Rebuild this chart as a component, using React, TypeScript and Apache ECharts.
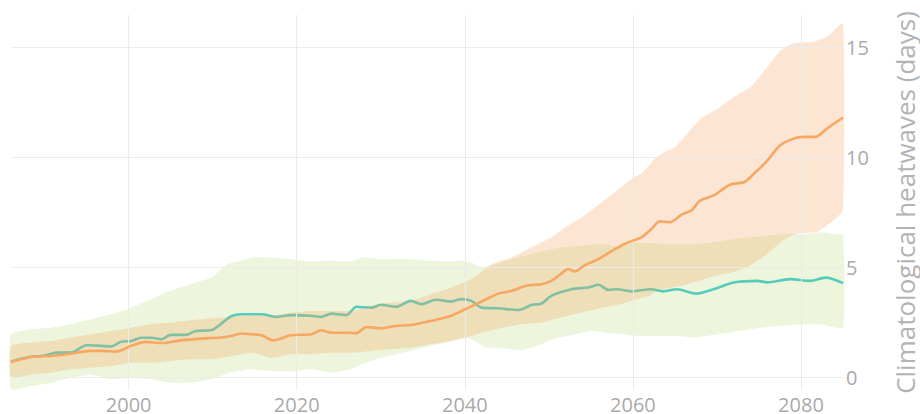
import React, { useEffect, useRef } from "react";
import * as echarts from "echarts";

const xTickLabels = [2000, 2020, 2040, 2060, 2080];
const yTickLabels = [0, 5, 10, 15];
const axisTitle = "Climatological heatwaves (days)";

const orangeMeanYears = [1986, 1988.4, 1990.8, 1993.1, 1995.5, 1996.7, 1998.5, 2000.3, 2002, 2004, 2006.2, 2008.6, 2011, 2012.2, 2013.4, 2014.6, 2015.8, 2017.2, 2019.3, 2021.7, 2022.9, 2024.1, 2025.9, 2027.1, 2028.3, 2030, 2031.8, 2033.6, 2036, 2038.4, 2039.6, 2040.8, 2042, 2044, 2045.6, 2047.3, 2049.1, 2050.3, 2051.5, 2052.3, 2053.1, 2054.3, 2055.9, 2057.5, 2059.4, 2061, 2062.2, 2063.2, 2064.4, 2065.8, 2067, 2068, 2069.6, 2071.6, 2073.2, 2074.4, 2076, 2077.5, 2079.1, 2080.3, 2081.7, 2083.1, 2085];
const orangeMean = [0.68, 0.91, 0.96, 1.06, 1.19, 1.19, 1.16, 1.42, 1.6, 1.55, 1.67, 1.75, 1.8, 1.87, 1.98, 1.95, 1.9, 1.67, 1.9, 1.95, 2.13, 2.02, 2.02, 2.0, 2.28, 2.22, 2.33, 2.37, 2.56, 2.79, 3.01, 3.22, 3.44, 3.8, 3.93, 4.16, 4.23, 4.38, 4.72, 4.92, 4.81, 5.1, 5.37, 5.75, 6.13, 6.36, 6.74, 7.09, 7.05, 7.4, 7.6, 8.04, 8.27, 8.77, 8.87, 9.26, 9.86, 10.55, 10.86, 10.94, 10.94, 11.32, 11.82];

const tealMeanYears = [1986, 1988, 1990, 1991.4, 1993.1, 1995, 1996.7, 1997.9, 1999.1, 2000.3, 2001.5, 2002.7, 2003.9, 2005, 2006.8, 2008, 2009.8, 2011, 2012.2, 2013.4, 2015.8, 2017.5, 2019.3, 2021.7, 2022.9, 2024.1, 2025.9, 2027.1, 2028.9, 2030, 2031.8, 2033.6, 2034.8, 2036.6, 2038.4, 2039.6, 2040.8, 2042, 2044, 2046.4, 2048, 2049.1, 2050.3, 2052.7, 2054.7, 2055.9, 2057.1, 2058.1, 2059.8, 2062.1, 2063.6, 2065.2, 2067.6, 2069.6, 2072, 2074.8, 2076, 2078.7, 2081.1, 2082.9, 2085];
const tealMean = [0.7, 0.9, 0.98, 1.11, 1.11, 1.45, 1.42, 1.39, 1.61, 1.64, 1.79, 1.79, 1.72, 1.92, 1.92, 2.1, 2.13, 2.42, 2.77, 2.86, 2.86, 2.74, 2.82, 2.79, 2.74, 2.89, 2.82, 3.2, 3.16, 3.29, 3.2, 3.47, 3.32, 3.52, 3.44, 3.55, 3.47, 3.16, 3.13, 3.05, 3.29, 3.34, 3.7, 4.0, 4.08, 4.2, 3.97, 4.0, 3.9, 4.0, 3.9, 4.0, 3.8, 4.0, 4.31, 4.38, 4.31, 4.46, 4.38, 4.53, 4.28];

const greenUpperYears = [1986, 1988.4, 1990.8, 1993.1, 1995.5, 1997.9, 2000.3, 2002.7, 2005, 2007.4, 2009.8, 2011.8, 2013.4, 2014.6, 2017, 2019.3, 2021.7, 2024.1, 2026.5, 2027.7, 2030, 2033.6, 2036, 2038.4, 2039.6, 2040.8, 2042, 2045.6, 2049.5, 2051.5, 2053.9, 2056.3, 2058.6, 2060.1, 2064, 2068, 2072, 2076, 2078.3, 2080.7, 2082.3, 2083.9, 2085];
const greenUpper = [1.95, 2.18, 2.25, 2.4, 2.63, 2.86, 3.16, 3.55, 3.93, 4.23, 4.53, 5.14, 5.3, 5.45, 5.45, 5.37, 5.27, 5.3, 5.27, 5.45, 5.37, 5.37, 5.3, 5.27, 5.3, 5.22, 4.99, 5.37, 5.75, 5.9, 5.98, 6.06, 5.94, 6.13, 6.06, 6.06, 6.29, 6.44, 6.51, 6.51, 6.59, 6.51, 6.44];

const greenLowerYears = [1986, 1988.4, 1990.8, 1993.1, 1995.5, 1997.9, 2000.3, 2002.7, 2005, 2007.4, 2009.8, 2012, 2013.4, 2014.6, 2017, 2019.3, 2021.7, 2024.1, 2026.5, 2027.7, 2030, 2033.6, 2036, 2038.4, 2040.2, 2041.2, 2042.4, 2044.4, 2046.8, 2049.1, 2050.3, 2052.7, 2055.1, 2056.7, 2058.6, 2061, 2063.3, 2065.4, 2067.3, 2071.3, 2075.2, 2079.1, 2082.3, 2085];
const greenLower = [-0.56, -0.41, -0.26, -0.03, 0.12, -0.1, -0.03, -0.1, -0.26, -0.26, -0.1, 0.2, 0.27, 0.35, 0.27, 0.24, 0.35, 0.2, 0.35, 0.58, 0.88, 1.19, 1.42, 1.64, 1.8, 1.64, 1.34, 1.31, 1.22, 1.49, 1.72, 1.92, 2.1, 2.02, 1.95, 1.87, 1.87, 1.87, 1.8, 2.02, 2.25, 2.37, 2.4, 2.25];

const orangeUpperYears = [1986, 1988.4, 1990.8, 1993.1, 1995.5, 1997.9, 2000.3, 2002.7, 2005, 2007.4, 2009.8, 2012.2, 2013.4, 2014.6, 2017, 2019.3, 2021.7, 2024.1, 2026.5, 2028.9, 2031.2, 2033.6, 2036, 2038.4, 2040.8, 2042, 2043.2, 2045.6, 2047.9, 2050.3, 2052.3, 2053.9, 2056.3, 2058.6, 2060.1, 2061, 2062.6, 2063.4, 2065, 2065.8, 2068, 2070.4, 2072, 2074, 2075.2, 2076, 2077.6, 2079.1, 2081.5, 2083.1, 2085];
const orangeUpper = [1.42, 1.57, 1.64, 1.8, 1.95, 2.1, 2.25, 2.4, 2.48, 2.59, 2.68, 2.74, 2.79, 2.79, 2.79, 2.94, 3.01, 3.01, 3.01, 3.24, 3.39, 3.47, 3.78, 4.08, 4.46, 4.8, 5.14, 5.45, 5.9, 6.36, 6.9, 7.27, 7.96, 8.64, 9.1, 9.26, 9.94, 10.17, 10.47, 10.78, 11.75, 12.3, 12.76, 13.21, 13.75, 14.13, 14.89, 15.2, 15.27, 15.5, 16.1];

const orangeLowerYears = [1986, 1988.4, 1990.8, 1993.1, 1995.5, 1997.9, 2000.3, 2002.7, 2005, 2007.4, 2009.8, 2012.2, 2014.6, 2017, 2019.3, 2021.7, 2024.1, 2026.5, 2028.9, 2031.2, 2033.6, 2036, 2038.4, 2040.8, 2042, 2044.4, 2046.8, 2049.1, 2051.5, 2053.9, 2056.3, 2058.6, 2060.1, 2062.1, 2062.9, 2066, 2068, 2070, 2072, 2074, 2076, 2077.9, 2079.5, 2081.9, 2083.9, 2085];
const orangeLower = [-0.03, 0.12, 0.2, 0.35, 0.42, 0.5, 0.65, 0.65, 0.73, 0.81, 0.81, 0.95, 1.11, 0.88, 1.04, 1.04, 1.11, 1.11, 1.19, 1.26, 1.34, 1.49, 1.64, 1.87, 2.02, 2.25, 2.4, 2.48, 2.71, 2.94, 3.16, 3.32, 3.5, 3.72, 3.95, 4.18, 4.4, 4.63, 4.78, 5.09, 5.62, 6.23, 6.54, 6.61, 7.14, 7.6];

const pairs = (xs: number[], ys: number[]) => xs.map((x, i) => [x, ys[i]]);

function bandSeries(name: string, upX: number[], up: number[], loX: number[], lo: number[], color: string, z: number) {
  return {
    type: "custom",
    name,
    z,
    silent: true,
    coordinateSystem: "cartesian2d",
    data: [[upX[0], up[0]]],
    encode: { x: 0, y: 1 },
    renderItem: (_params: any, api: any) => {
      const pts: number[][] = [];
      for (let i = 0; i < upX.length; i++) pts.push(api.coord([upX[i], up[i]]));
      for (let i = loX.length - 1; i >= 0; i--) pts.push(api.coord([loX[i], lo[i]]));
      return { type: "polygon", shape: { points: pts, smooth: 0.15 }, style: { fill: color } };
    },
  };
}

export default function App() {
  const ref = useRef<HTMLDivElement>(null);
  useEffect(() => {
    document.body.style.margin = "0";
    if (!ref.current) return;
    const chart = echarts.init(ref.current, undefined, { renderer: "svg" });
    const font = "'Open Sans', 'Noto Sans', sans-serif";
    chart.setOption({
      animation: false,
      grid: { left: 11, right: 77, top: 14.8, bottom: 23.8, outerBoundsMode: "none" },
      xAxis: {
        type: "value",
        min: 1986,
        max: 2085,
        axisLine: { show: false },
        axisTick: { show: false },
        splitLine: { show: false },
        axisLabel: {
          customValues: xTickLabels,
          formatter: (v: number) => String(v),
          color: "#aaaaaa",
          fontSize: 20,
          lineHeight: 16,
          fontFamily: font,
          margin: 6,
        },
      },
      yAxis: {
        type: "value",
        position: "right",
        min: -0.6,
        max: 16.5,
        axisLine: { show: false },
        axisTick: { show: false },
        splitLine: { show: false },
        axisLabel: {
          customValues: yTickLabels,
          formatter: (v: number) => String(v),
          color: "#aaaaaa",
          fontSize: 20,
          fontFamily: font,
          margin: 3,
        },
        name: axisTitle,
        nameLocation: "middle",
        nameRotate: 90,
        nameGap: 52,
        nameTextStyle: { color: "#b3b3b3", fontSize: 26, fontFamily: font, lineHeight: 20 },
      },
      series: [
        {
          type: "line",
          z: 1,
          silent: true,
          data: [[2000, 0]],
          symbol: "none",
          lineStyle: { opacity: 0 },
          markLine: {
            silent: true,
            symbol: "none",
            label: { show: false },
            lineStyle: { color: "#ebebeb", width: 1, type: "solid" },
            data: [...xTickLabels.map((v) => ({ xAxis: v })), ...yTickLabels.map((v) => ({ yAxis: v }))],
          },
        },
        bandSeries("green band", greenUpperYears, greenUpper, greenLowerYears, greenLower, "rgba(163,212,80,0.2)", 2),
        {
          type: "line",
          name: "teal",
          z: 3,
          data: pairs(tealMeanYears, tealMean),
          symbol: "none",
          smooth: 0.3,
          lineStyle: { color: "#55cbbb", width: 2.6 },
        },
        bandSeries("orange band", orangeUpperYears, orangeUpper, orangeLowerYears, orangeLower, "rgba(246,167,98,0.28)", 4),
        {
          type: "line",
          name: "orange",
          z: 5,
          data: pairs(orangeMeanYears, orangeMean),
          symbol: "none",
          smooth: 0.3,
          lineStyle: { color: "#f6a762", width: 2.6 },
        },
      ],
    });
    return () => chart.dispose();
  }, []);
  return <div ref={ref} style={{ width: 920, height: 414 }} />;
}
